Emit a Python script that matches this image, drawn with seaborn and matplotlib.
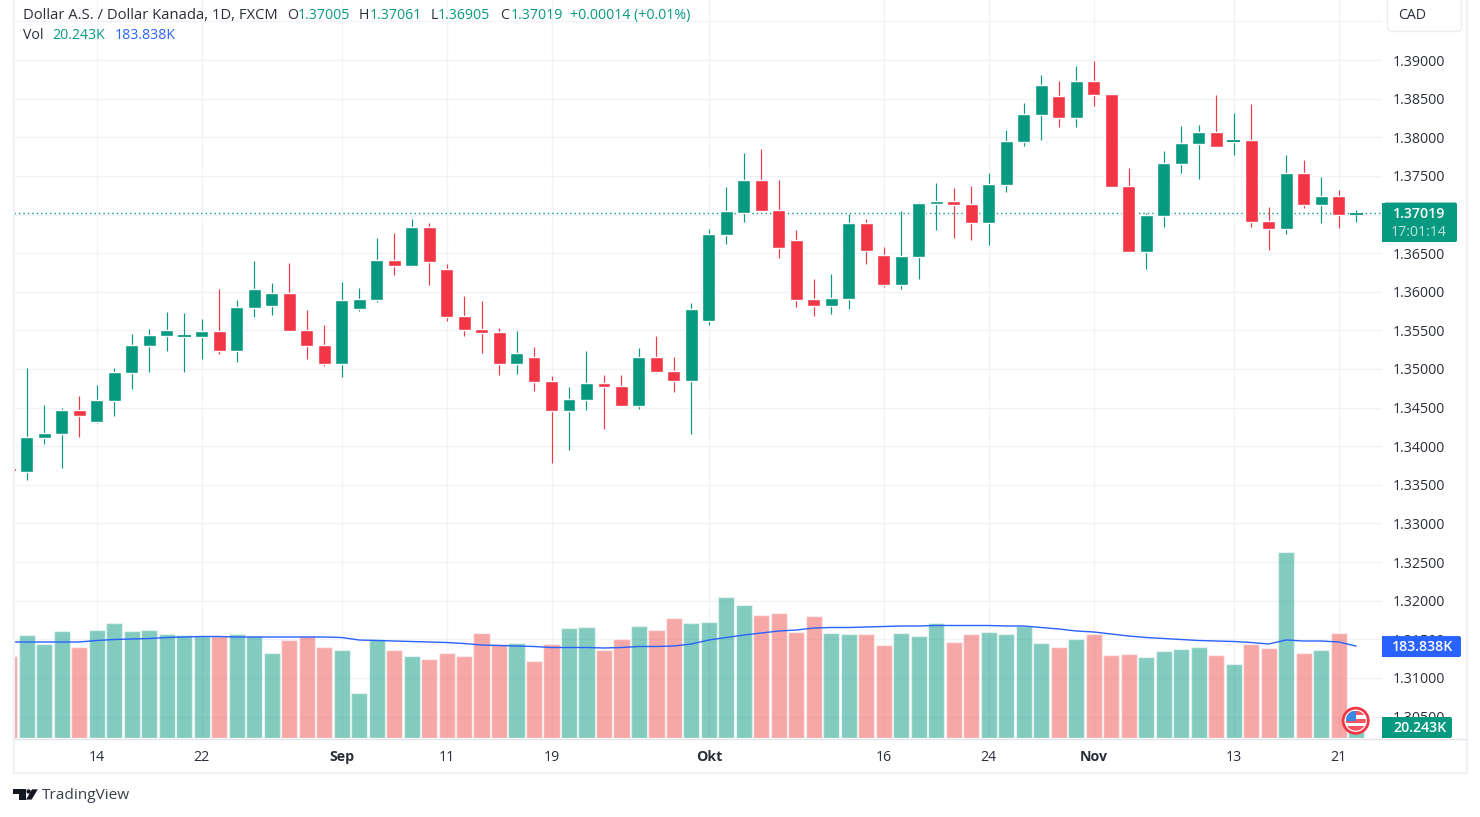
import matplotlib
matplotlib.use("Agg")
import matplotlib.pyplot as plt
import pandas as pd
import seaborn as sns
from matplotlib.patches import Circle, FancyBboxPatch, Polygon, Rectangle

GREEN = "#089981"
RED = "#F23645"
BLUE = "#2962FF"
GRID = "#F1F3F8"
TEXT = "#2A2E39"
FRAME = "#F0F1F7"
FONT_SIZE = 10.2

# daily bars, first one is cut off by the left edge of the pane
opens = [
    1.33698, 1.33672, 1.34112, 1.34164, 1.34475, 1.34320, 1.34592, 1.34954, 1.35304, 1.35433, 1.35420,
    1.35420, 1.35498, 1.35239, 1.35796, 1.35822, 1.35990, 1.35511, 1.35317, 1.35071, 1.35783, 1.35887,
    1.36417, 1.36339, 1.36844, 1.36301, 1.35692, 1.35524, 1.35485, 1.35071, 1.35161, 1.34851, 1.34462,
    1.34605, 1.34825, 1.34786, 1.34527, 1.35161, 1.34980, 1.34851, 1.35615, 1.36741, 1.37026, 1.37453,
    1.37052, 1.36676, 1.35900, 1.35822, 1.35900, 1.36896, 1.36482, 1.36093, 1.36456, 1.37142, 1.37181,
    1.37142, 1.36896, 1.37388, 1.37945, 1.38294, 1.38540, 1.38243, 1.38734, 1.38566, 1.37375, 1.36521,
    1.36987, 1.37660, 1.37919, 1.38074, 1.37945, 1.37971, 1.36922, 1.36806, 1.37543, 1.37129, 1.37246,
    1.37005,
]
highs = [
    1.33698, 1.35019, 1.34540, 1.34501, 1.34656, 1.34799, 1.35019, 1.35459, 1.35524, 1.35744, 1.35731,
    1.35653, 1.36041, 1.35887, 1.36404, 1.36119, 1.36378, 1.35770, 1.35576, 1.36132, 1.36055, 1.36702,
    1.36767, 1.36948, 1.36896, 1.36365, 1.35939, 1.35874, 1.35537, 1.35498, 1.35291, 1.34903, 1.34773,
    1.35239, 1.34916, 1.34916, 1.35278, 1.35433, 1.35161, 1.35848, 1.36806, 1.37362, 1.37802, 1.37854,
    1.37453, 1.36793, 1.36171, 1.36236, 1.37013, 1.36948, 1.36573, 1.37039, 1.37168, 1.37414, 1.37349,
    1.37375, 1.37543, 1.38100, 1.38450, 1.38812, 1.38734, 1.38929, 1.38993, 1.38566, 1.37608, 1.37026,
    1.37828, 1.38152, 1.38165, 1.38553, 1.38320, 1.38437, 1.37103, 1.37776, 1.37712, 1.37492, 1.37323,
    1.37061,
]
lows = [
    1.33685, 1.33569, 1.34035, 1.33724, 1.34125, 1.34307, 1.34397, 1.34747, 1.34967, 1.35239, 1.34967,
    1.35135, 1.35200, 1.35097, 1.35679, 1.35705, 1.35498, 1.35135, 1.35045, 1.34890, 1.35757, 1.35861,
    1.36223, 1.36314, 1.36081, 1.35615, 1.35433, 1.35213, 1.34928, 1.34941, 1.34721, 1.33789, 1.33957,
    1.34475, 1.34229, 1.34527, 1.34488, 1.34954, 1.34708, 1.34164, 1.35576, 1.36624, 1.36909, 1.37039,
    1.36443, 1.35809, 1.35692, 1.35718, 1.35783, 1.36365, 1.36067, 1.36041, 1.36171, 1.36793, 1.36702,
    1.36676, 1.36611, 1.37297, 1.37893, 1.37971, 1.38139, 1.38139, 1.38411, 1.37362, 1.36521, 1.36301,
    1.36832, 1.37543, 1.37466, 1.37880, 1.37776, 1.36844, 1.36547, 1.36754, 1.37078, 1.36896, 1.36819,
    1.36905,
]
closes = [
    1.33685, 1.34125, 1.34177, 1.34475, 1.34397, 1.34605, 1.34967, 1.35317, 1.35446, 1.35511, 1.35433,
    1.35498, 1.35239, 1.35809, 1.36041, 1.35990, 1.35498, 1.35304, 1.35071, 1.35887, 1.35900, 1.36417,
    1.36339, 1.36844, 1.36391, 1.35679, 1.35511, 1.35472, 1.35071, 1.35213, 1.34838, 1.34462, 1.34618,
    1.34825, 1.34773, 1.34527, 1.35161, 1.34967, 1.34851, 1.35783, 1.36754, 1.37039, 1.37453, 1.37039,
    1.36560, 1.35887, 1.35822, 1.35913, 1.36896, 1.36534, 1.36093, 1.36469, 1.37155, 1.37181, 1.37129,
    1.36896, 1.37401, 1.37958, 1.38307, 1.38683, 1.38243, 1.38734, 1.38553, 1.37362, 1.36521, 1.37000,
    1.37673, 1.37932, 1.38074, 1.37880, 1.37971, 1.36909, 1.36806, 1.37543, 1.37129, 1.37246, 1.37000,
    1.37019,
]
volumes = [
    164, 206, 188, 214, 182, 216, 230, 214, 216, 208, 206, 204, 204, 208, 204, 170, 196, 204, 182, 176,
    90, 198, 176, 164, 158, 170, 164, 210, 188, 190, 154, 188, 220, 222, 176, 198, 224, 216, 240, 230,
    232, 282, 266, 246, 250, 212, 244, 210, 208, 208, 186, 210, 204, 230, 192, 208, 212, 208, 224, 190,
    182, 198, 208, 166, 168, 162, 174, 178, 182, 166, 148, 188, 180, 372, 170, 176, 210, 20.243,
]
volume_ma = [
    192, 192, 192, 192, 192, 195, 197, 198, 199, 201, 202, 203, 203, 202, 202, 202, 202, 202, 202, 201,
    196, 195, 194, 193, 192, 191, 189, 186, 185, 184, 183, 181, 181, 181, 180, 181, 183, 183, 184, 188,
    196, 201, 206, 210, 214, 216, 220, 221, 221, 222, 223, 224, 224, 225, 225, 225, 225, 224, 224, 221,
    218, 214, 212, 208, 204, 201, 199, 197, 195, 194, 193, 191, 188, 196, 194, 194, 192, 183.838,
]
bar_ids = list(range(-1, 77))

date_ticks = [4, 10, 18, 24, 30, 39, 49, 55, 61, 69, 75]
date_labels = ["14", "22", "Sep", "11", "19", "Okt", "16", "24", "Nov", "13", "21"]
month_labels = ("Sep", "Okt", "Nov")
price_ticks = [1.305, 1.31, 1.315, 1.32, 1.325, 1.33, 1.335, 1.34, 1.345, 1.35, 1.355, 1.36, 1.365,
               1.37, 1.375, 1.38, 1.385, 1.39, 1.395]

sns.set_theme(style="white")
plt.rcParams["font.family"] = ["Open Sans", "DejaVu Sans"]

df = pd.DataFrame({"bar": bar_ids, "open": opens, "high": highs, "low": lows, "close": closes,
                   "volume": volumes, "ma": volume_ma})
df["side"] = ["up" if c >= o else "down" for o, c in zip(df["open"], df["close"])]
df["color"] = df["side"].map({"up": GREEN, "down": RED})

W, H = 1480, 817
fig = plt.figure(figsize=(W / 100, H / 100), dpi=100)
fig.patch.set_facecolor("white")
ax = fig.add_axes([14 / W, 1 - 738 / H, (1382 - 14) / W, 738 / H])
ax.set_ylim(1.30223, 1.39777)
ax.set_axisbelow(True)
ax.grid(True, color=GRID, lw=1)

# last price line sits under the candles
ax.axhline(closes[-1], color=GREEN, lw=1, ls=(0, (1, 2.2)), zorder=1.5)

ax.vlines(df["bar"], df["low"], df["high"], colors=df["color"], lw=0.85, zorder=2)
ax.bar(df["bar"], (df["close"] - df["open"]).abs(), bottom=df[["open", "close"]].min(axis=1),
       width=0.74, color=df["color"], zorder=3)

# very thin bodies collapse when snapped to pixels, so they get a line instead
thin = df[(df["close"] - df["open"]).abs() < 0.0003]
ax.hlines((thin["open"] + thin["close"]) / 2, thin["bar"] - 0.37, thin["bar"] + 0.37,
          colors=thin["color"], lw=1.3, zorder=3)

ax_vol = ax.twinx()
sns.barplot(data=df, x="bar", y="volume", hue="side", palette={"up": GREEN, "down": "#EF5350"},
            native_scale=True, dodge=False, width=0.92, saturation=1, alpha=0.5, legend=False, ax=ax_vol)
sns.lineplot(data=df, x="bar", y="ma", color=BLUE, lw=1, ax=ax_vol)
ax_vol.set_ylim(0, 1476)
ax_vol.axis("off")

ax.set_xlim(-0.73, 77.48)
ax.set_xticks(date_ticks)
ax.set_xticklabels(date_labels, fontsize=FONT_SIZE, color=TEXT)
for lab in ax.get_xticklabels():
    if lab.get_text() in month_labels:
        lab.set_fontweight("bold")
ax.set_yticks(price_ticks)
ax.set_yticklabels([f"{p:.5f}" for p in price_ticks], fontsize=FONT_SIZE, color=TEXT)
ax.yaxis.tick_right()
ax.tick_params(axis="y", length=0, pad=8)
ax.tick_params(axis="x", length=0, pad=8.5)
for side in ("top", "left", "right", "bottom"):
    ax.spines[side].set_visible(False)

# everything around the plot is placed in screen pixels
ov = fig.add_axes([0, 0, 1, 1], zorder=5)
ov.set_xlim(0, W)
ov.set_ylim(H, 0)
ov.axis("off")


def to_px(axis, value):
    return H - axis.transData.transform((0, value))[1]


def tag(x0, x1, y0, y1, color):
    ov.add_patch(FancyBboxPatch((x0 + 2, y0), x1 - x0 - 2, y1 - y0, boxstyle="round,pad=0,rounding_size=2",
                                fc=color, ec="none"))
    ov.add_patch(Rectangle((x0, y0), 4, y1 - y0, fc=color, ec="none"))


# frame
ov.plot([13.5, 13.5], [0, 773], color=FRAME, lw=1.6)
ov.plot([13, 1467], [772.5, 772.5], color=FRAME, lw=1.6)
ov.plot([1466.5, 1466.5], [0, 773], color=FRAME, lw=1.6)
ov.plot([14, 1466], [738.5, 738.5], color="#E0E3EB", lw=1)

# currency button
ov.add_patch(FancyBboxPatch((1387.5, -8), 74, 39.5, boxstyle="round,pad=0,rounding_size=5",
                            fc="white", ec="#ECEDF3", lw=1))
ov.text(1398, 15.5, "CAD", fontsize=FONT_SIZE, color=TEXT, va="center")

# price tags
y_last = to_px(ax, closes[-1])
tag(1382, 1457, y_last - 10.5, y_last + 29, GREEN)
ov.text(1419, y_last + 1, f"{closes[-1]:.5f}", color="white", fontsize=FONT_SIZE, ha="center", va="center",
        fontweight="semibold")
ov.text(1419, y_last + 19.5, "17:01:14", color="#BFE3DC", fontsize=FONT_SIZE, ha="center", va="center")

y_ma = to_px(ax_vol, volume_ma[-1])
tag(1382, 1461, y_ma - 10, y_ma + 11, BLUE)
ov.text(1423, y_ma + 1, f"{volume_ma[-1]:.3f}K", color="white", fontsize=FONT_SIZE, ha="center", va="center",
        fontweight="semibold")

tag(1382, 1452, 717, 738, GREEN)
ov.text(1419.5, 728, f"{volumes[-1]:.3f}K", color="white", fontsize=FONT_SIZE, ha="center", va="center",
        fontweight="semibold")

# legend rows
row1, row2 = 15, 35
ov.text(23, row1, "Dollar A.S. / Dollar Kanada, 1D, FXCM", fontsize=10.6, color=TEXT, va="center")
for x_lab, lab, x_val, val in [(287, "O", 298, opens[-1]), (359, "H", 370, highs[-1]),
                               (431, "L", 438, lows[-1]), (500, "C", 511, closes[-1])]:
    ov.text(x_lab, row1, lab, fontsize=FONT_SIZE, color=TEXT, va="center")
    ov.text(x_val, row1, f"{val:.5f}", fontsize=FONT_SIZE, color=GREEN, va="center")
ov.text(570, row1, "+0.00014 (+0.01%)", fontsize=FONT_SIZE, color=GREEN, va="center")
ov.text(23, row2, "Vol", fontsize=FONT_SIZE, color=TEXT, va="center")
ov.text(52, row2, f"{volumes[-1]:.3f}K", fontsize=FONT_SIZE, color=GREEN, va="center")
ov.text(115, row2, f"{volume_ma[-1]:.3f}K", fontsize=FONT_SIZE, color=BLUE, va="center")

# economic event flag on the last bar
cx, cy = 1355.7, 720.7
ov.add_patch(Circle((cx, cy), 12.6, fc="white", ec=RED, lw=2))
inner = Circle((cx, cy), 10, transform=ov.transData, fc="none", ec="none")
ov.add_patch(inner)
for sy, sh, col in [(cy - 10, 4, RED), (cy - 1.5, 4, RED), (cy + 5.5, 5, RED)]:
    ov.add_patch(Rectangle((cx - 10, sy), 20, sh, fc=col, ec="none", clip_path=inner, alpha=0.85))
ov.add_patch(Rectangle((cx - 10, cy - 10), 10, 10, fc="#3D87E0", ec="none", clip_path=inner))

# logo
ov.add_patch(Polygon([(13.3, 789.3), (25.7, 789.3), (25.7, 799.6), (19, 799.6), (19, 793.6), (13.3, 793.6)],
                     fc="#131722", ec="none"))
ov.add_patch(Circle((28.6, 791.5), 2.2, fc="#131722", ec="none"))
ov.add_patch(Polygon([(32, 789.3), (37.8, 789.3), (31.6, 799.6), (26, 799.6)], fc="#131722", ec="none"))
ov.text(42, 795.5, "TradingView", fontsize=11.1, color="#3A3E4A", va="center")

fig.savefig("out.png", dpi=100, facecolor="white")
